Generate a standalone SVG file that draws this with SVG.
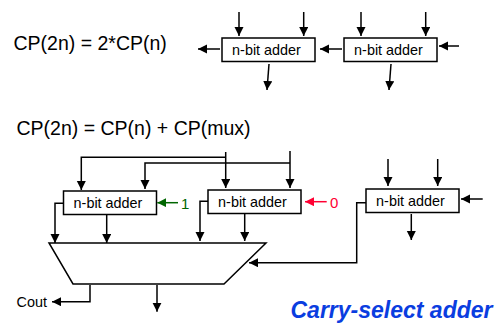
<svg xmlns="http://www.w3.org/2000/svg" width="498" height="324" viewBox="0 0 498 324">
<style>
text{font-family:"Liberation Sans",Arial,sans-serif;fill:#000}
.eq{font-size:19.5px}
.lab{font-size:14.4px;text-anchor:middle}
.box{fill:#fff;stroke:#000;stroke-width:1.5}
.w{fill:none;stroke:#000;stroke-width:1.5;marker-end:url(#a)}
</style>
<defs>
<marker id="a" markerUnits="userSpaceOnUse" markerWidth="11" markerHeight="11" refX="9" refY="4.500" orient="auto"><path d="M0 0L9 4.500L0 9z" fill="#000"/></marker>
<marker id="g" markerUnits="userSpaceOnUse" markerWidth="11" markerHeight="11" refX="9" refY="4.500" orient="auto"><path d="M0 0L9 4.500L0 9z" fill="#006600"/></marker>
<marker id="r" markerUnits="userSpaceOnUse" markerWidth="11" markerHeight="11" refX="9" refY="4.500" orient="auto"><path d="M0 0L9 4.500L0 9z" fill="#ff0033"/></marker>
</defs>
<text class="eq" x="13.500" y="50">CP(2n) = 2*CP(n)</text>
<text class="eq" x="16.500" y="135">CP(2n) = CP(n) + CP(mux)</text>
<g id="mux"><path class="box" d="M49 243H266L224 284H73z"/></g>
<g id="adder-top-1"><rect class="box" x="222" y="38" width="93" height="23.500"/><text class="lab" x="266.500" y="55">n-bit adder</text></g>
<g id="adder-top-2"><rect class="box" x="344" y="38" width="93" height="23.500"/><text class="lab" x="388.500" y="55">n-bit adder</text></g>
<g id="adder-1"><rect class="box" x="63.500" y="191" width="93" height="23.500"/><text class="lab" x="108" y="208">n-bit adder</text></g>
<g id="adder-0"><rect class="box" x="208" y="190" width="93" height="23.500"/><text class="lab" x="252.500" y="207">n-bit adder</text></g>
<g id="adder-3"><rect class="box" x="366" y="189" width="93" height="23.500"/><text class="lab" x="410.500" y="206">n-bit adder</text></g>
<g id="connectors">
<path class="w" d="M239 12V36"/><path class="w" d="M303.700 12V36"/><path class="w" d="M361 12V36"/><path class="w" d="M425.700 12V36"/>
<path class="w" d="M220 49H198"/><path class="w" d="M342 49H320"/><path class="w" d="M459 46H439"/>
<path class="w" d="M269 64L267 90"/><path class="w" d="M391 64L389 90"/>
<path class="w" d="M225.700 152V188"/><path class="w" d="M290 151V188"/>
<path class="w" d="M225.700 157.300H81.300V190"/><path class="w" d="M290 163H145V189"/>
<path class="w" d="M63 203.300H55V243"/><path class="w" d="M106.700 215V243"/>
<path class="w" d="M208 201.300H200V241"/><path class="w" d="M244.700 214V241"/>
<path class="w" d="M388 159V186"/><path class="w" d="M437.700 159V186"/>
<path class="w" d="M482.700 199H461"/><path class="w" d="M411.300 214V240"/>
<path class="w" d="M366 202.700H356.700V262.700H249"/>
<path class="w" d="M90 285V301.700H52"/><path class="w" d="M157 285V311.700"/>
<path d="M178 202.700H157.300" fill="none" stroke="#006600" stroke-width="1.500" marker-end="url(#g)"/>
<path d="M326.700 201.700H305" fill="none" stroke="#ff0033" stroke-width="1.500" marker-end="url(#r)"/>
</g>
<text x="181" y="209" font-size="15" style="fill:#006600">1</text>
<text x="330" y="208" font-size="15" style="fill:#ff0033">0</text>
<text x="16.500" y="307" font-size="14.400">Cout</text>
<text x="290.500" y="317.500" font-size="23" font-weight="bold" font-style="italic" style="fill:#0a3de0">Carry-select adder</text>
</svg>
